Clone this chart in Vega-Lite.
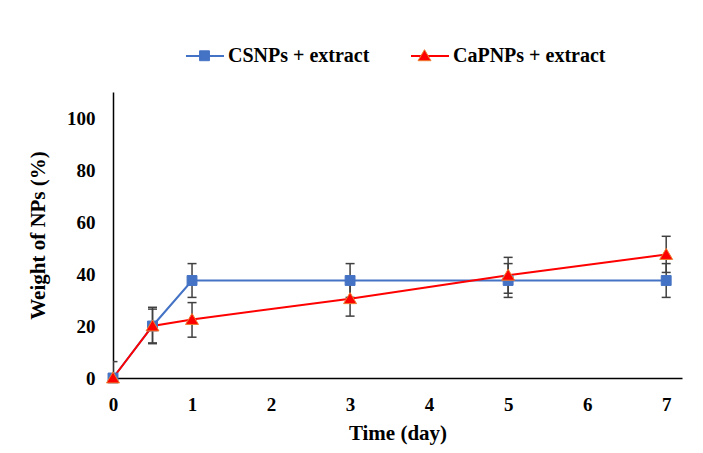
{
  "$schema": "https://vega.github.io/schema/vega-lite/v6.json",
  "width": 569,
  "height": 286,
  "autosize": {"type": "none"},
  "padding": {"left": 113, "top": 92, "right": 21, "bottom": 75},
  "background": "white",
  "config": {
    "view": {"stroke": null},
    "font": "Liberation Serif",
    "axis": {
      "domainColor": "black",
      "domainWidth": 1.5,
      "ticks": false,
      "tickSize": 0,
      "grid": false,
      "labelFont": "Liberation Serif",
      "labelFontWeight": "bold",
      "labelFontSize": 19,
      "labelColor": "black",
      "labelFlush": false,
      "titleFont": "Liberation Serif",
      "titleFontWeight": "bold",
      "titleFontSize": 21,
      "titleColor": "black"
    },
    "axisX": {"labelPadding": 17, "titlePadding": 8},
    "axisY": {"labelPadding": 18, "titlePadding": 18}
  },
  "data": {
    "values": [
      {"series": "CSNPs + extract", "group": "CSNPs + extract", "time": 0, "w": 0, "lo": 0, "hi": 6.3},
      {"series": "CSNPs + extract", "group": "CSNPs + extract", "time": 0.5, "w": 20, "lo": 13.2, "hi": 27.2},
      {"series": "CSNPs + extract", "group": "CSNPs + extract", "time": 1, "w": 37.5, "lo": 31, "hi": 44},
      {"series": "CSNPs + extract", "group": "CSNPs + extract", "time": 3, "w": 37.5, "lo": 31, "hi": 44},
      {"series": "CSNPs + extract", "group": "CSNPs + extract", "time": 5, "w": 37.5, "lo": 31, "hi": 44},
      {"series": "CSNPs + extract", "group": "CSNPs + extract", "time": 7, "w": 37.5, "lo": 31, "hi": 44},
      {"series": "CaPNPs + extract", "group": "CaPNPs + extract", "time": 0, "w": 0, "lo": null, "hi": null},
      {"series": "CaPNPs + extract", "group": "CaPNPs + extract", "time": 0.5, "w": 20, "lo": 13.5, "hi": 26.5},
      {"series": "CaPNPs + extract", "group": "CaPNPs + extract", "time": 1, "w": 22.5, "lo": 15.7, "hi": 29},
      {"series": "CaPNPs + extract", "group": "CaPNPs + extract", "time": 3, "w": 30.5, "lo": 23.8, "hi": 37},
      {"series": "CaPNPs + extract", "group": "CaPNPs + extract", "time": 5, "w": 39.5, "lo": 32.6, "hi": 46.4},
      {"series": "CaPNPs + extract", "group": "CaPNPs + extract", "time": 7, "w": 47.5, "lo": 40.6, "hi": 54.5}
    ]
  },
  "encoding": {
    "x": {"field": "time", "type": "quantitative", "title": "Time (day)", "scale": {"domain": [0, 7.2], "nice": false}, "axis": {"values": [0, 1, 2, 3, 4, 5, 6, 7], "format": "d"}}
  },
  "layer": [
    {
      "mark": {"type": "rule", "color": "#404040", "strokeWidth": 1.5, "clip": true},
      "encoding": {
        "y": {"field": "lo", "type": "quantitative", "title": "Weight of NPs (%)", "scale": {"domain": [0, 110], "nice": false}, "axis": {"values": [0, 20, 40, 60, 80, 100]}},
        "y2": {"field": "hi"}
      }
    },
    {
      "mark": {"type": "tick", "orient": "horizontal", "size": 9, "thickness": 1.5, "color": "#404040", "clip": true, "opacity": 1},
      "encoding": {
        "y": {"field": "lo", "type": "quantitative", "title": "Weight of NPs (%)"}
      }
    },
    {
      "mark": {"type": "tick", "orient": "horizontal", "size": 9, "thickness": 1.5, "color": "#404040", "clip": true, "opacity": 1},
      "encoding": {
        "y": {"field": "hi", "type": "quantitative", "title": "Weight of NPs (%)"}
      }
    },
    {
      "mark": {"type": "line", "strokeWidth": 2},
      "encoding": {
        "y": {"field": "w", "type": "quantitative", "title": "Weight of NPs (%)"},
        "color": {
          "field": "series",
          "type": "nominal",
          "scale": {"domain": ["CSNPs + extract", "CaPNPs + extract"], "range": ["#4472C4", "#FF0000"]},
          "legend": {
            "orient": "none",
            "legendX": 72,
            "legendY": -56,
            "direction": "horizontal",
            "title": null,
            "symbolType": "stroke",
            "symbolSize": 1444,
            "symbolStrokeWidth": 2,
            "labelFont": "Liberation Serif",
            "labelFontWeight": "bold",
            "labelFontSize": 20,
            "labelColor": "black",
            "labelOffset": 3,
            "columnPadding": 37
          }
        }
      }
    },
    {
      "mark": {"type": "point", "filled": true, "size": 1444, "opacity": 1, "strokeWidth": 1},
      "encoding": {
        "y": {"field": "w", "type": "quantitative", "title": "Weight of NPs (%)"},
        "shape": {
          "field": "group",
          "type": "nominal",
          "scale": {"range": ["M-0.26,-0.26H0.26V0.26H-0.26Z", "M0,-0.32L0.34,0.26L-0.34,0.26Z"]},
          "legend": {
            "orient": "none",
            "legendX": 72,
            "legendY": -56,
            "direction": "horizontal",
            "title": null,
            "symbolSize": 1444,
            "symbolStrokeWidth": 1,
            "labelExpr": "''",
            "labelFont": "Liberation Serif",
            "labelFontWeight": "bold",
            "labelFontSize": 20,
            "labelOffset": 3,
            "columnPadding": 178
          }
        },
        "fill": {"field": "group", "type": "nominal", "scale": {"range": ["#4472C4", "#FF0000"]}},
        "stroke": {"field": "group", "type": "nominal", "scale": {"range": ["#4472C4", "#ED7D31"]}}
      }
    }
  ]
}
